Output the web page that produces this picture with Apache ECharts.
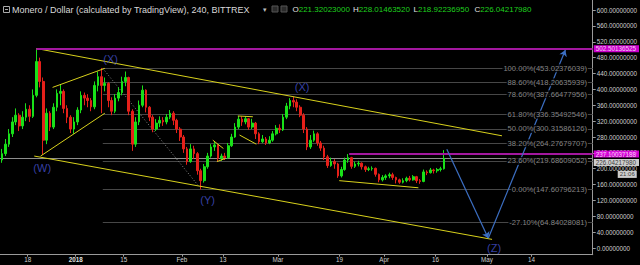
<!DOCTYPE html>
<html><head><meta charset="utf-8">
<script src="https://cdn.jsdelivr.net/npm/echarts@6/dist/echarts.min.js"></script>
<style>html,body{margin:0;padding:0;background:#000;}#c{width:640px;height:265px;}</style>
</head><body><div id="c"></div>
<script>
// ---- data (x = days since 2017-12-18, y = USD) ----
const firstDay = -8;           // first candle: 2017-12-10
const firstOpen = 222;
const closes = [238,262,288,318,335,308,330,350,
 332,385,470,420,272,340,305,355,390,395,
 352,330,300,318,348,385,378,372,356,410,
 432,410,415,372,345,378,392,420,430,345,
 262,318,360,398,355,330,300,315,322,318,
 330,340,322,300,280,250,218,250,238,195,
 170,205,232,255,260,226,232,228,258,280,
 305,325,318,326,305,315,288,268,275,265,
 272,288,302,298,330,358,372,368,355,335,
 300,255,272,288,265,252,230,208,218,212,
 182,198,222,228,206,212,214,205,198,200,
 201,186,172,178,182,185,178,172,166,170,
 176,172,180,170,168,192,190,197,195,198,
 200,226];
const highs = [250,275,300,330,352,340,345,365,
 360,400,503,480,430,352,345,365,400,412,
 400,360,335,330,355,395,392,388,378,420,
 445,454,430,418,380,388,405,432,445,432,
 350,330,372,410,400,358,335,325,332,330,
 338,348,345,326,305,285,255,262,258,242,
 200,212,240,262,270,262,238,240,265,288,
 315,333,332,332,328,326,318,292,285,280,
 282,295,310,312,338,366,378,382,375,360,
 340,305,285,296,292,270,258,235,228,224,
 215,205,228,237,230,218,220,216,208,205,
 206,203,188,184,186,190,190,180,175,176,
 180,182,184,182,174,198,196,202,200,202,
 205,247];
const lows = [215,232,255,280,310,295,300,320,
 318,328,380,405,235,262,295,300,345,360,
 340,315,290,288,310,340,360,355,345,350,
 395,340,395,355,335,340,370,385,408,335,
 245,255,310,355,342,320,292,295,305,308,
 312,325,310,290,270,240,210,215,225,185,
 148,165,200,228,245,218,220,222,225,255,
 278,300,308,312,298,300,275,262,265,260,
 262,268,284,290,295,325,350,355,345,330,
 290,247,250,268,258,245,222,202,205,200,
 177,178,195,215,200,202,206,198,192,194,
 195,180,166,168,172,176,172,163,162,163,
 166,168,170,164,162,166,184,188,188,190,
 193,198];
const lastPrice = 226.04217980;
const ohlcText = ['221.32023000','228.01463520','218.92236950','226.04217980'];

const tickDays = [0,14,28,45,57,73,91,104,119,134,147];
const tickLabels = ['18','2018','15','Feb','13','Mar','19','Apr','16','May','14'];
const yTicks = [0,40,80,120,160,200,240,280,320,360,400,440,480,520,560,600];

const fibPct = ['100.00%','88.60%','78.60%','61.80%','50.00%','38.20%','23.60%','0.00%','-27.10%'];
const fibPrice = [453.02376039,418.20635939,387.66477956,336.35492546,300.31586126,264.27679707,219.68609052,147.60796213,64.84028081];
const fibStartDay = 21.9;

const channelLines = [[[2.5,503],[138.4,283]], [[1.9,232],[135.5,22]]];
const patternLines = [
  [[7.25,405],[22.5,453]], [[3.76,232],[22.5,340]],
  [[54.0,272],[57.1,251]], [[55.2,218],[57.7,226]],
  [[61.3,333],[65.7,331]], [[61.8,285],[66.7,262]],
  [[90.9,170],[114,152]]
];
const dottedLine = [[21.9,453],[50.1,154]];
const magentaLevels = [{start:2.5, price:502.50136525}, {start:93.8, price:237.10037188}];
const projection = [[122.3,249],[134.4,25],[156.9,499]];
const waveLabels = [['(W)',4.22,202.6],['(X)',24.2,476.6],['(Y)',52.5,121.2],['(X)',80.05,406.8],['(Z)',136.1,0.3]];

// ---- chart ----
const dayMin = -8.095, dayMax = 164.88, priceMin = -16.6, priceMax = 625.25;
const FONT = 'Liberation Sans';

const candles = closes.map((c,i)=>[firstDay+i+0.5, i===0?firstOpen:closes[i-1], c, lows[i], highs[i]]);
const seg = (a,b)=>({coords:[a,b]});

const chart = echarts.init(document.getElementById('c'), null, {renderer:'svg', width:640, height:265});
chart.setOption({
  backgroundColor:'#000',
  animation:false,
  grid:{left:0, right:46, top:0, bottom:10.3},
  xAxis:{type:'value', min:dayMin, max:dayMax, splitLine:{show:false},
    axisLine:{onZero:false, lineStyle:{color:'#9a9a9a'}},
    axisTick:{customValues:tickDays, length:2, lineStyle:{color:'#9a9a9a'}},
    axisLabel:{customValues:tickDays, margin:2, color:'#cfcfcf', fontSize:6.3, fontFamily:FONT,
      formatter:v=>{const l=tickLabels[tickDays.indexOf(v)]; return l==='2018'?'{b|2018}':l;},
      rich:{b:{fontWeight:'bold', color:'#e0e0e0', fontSize:6.3, fontFamily:FONT}}}},
  yAxis:{type:'value', position:'right', min:priceMin, max:priceMax, splitLine:{show:false},
    axisLine:{show:true, onZero:false, lineStyle:{color:'#9a9a9a'}},
    axisTick:{show:true, customValues:yTicks, length:3, lineStyle:{color:'#9a9a9a'}},
    axisLabel:{customValues:yTicks, margin:4, color:'#cfcfcf', fontSize:6.3, fontFamily:FONT,
      formatter:v=>v.toFixed(8)}},
  graphic:[
    {type:'rect', shape:{x:3.5,y:6.5,width:6,height:6}, style:{fill:'none', stroke:'#aaa', lineWidth:1}},
    {type:'line', shape:{x1:5,y1:9.5,x2:8,y2:9.5}, style:{stroke:'#aaa', lineWidth:1}},
    {type:'text', x:12, y:9.5, style:{text:'Monero / Dollar (calculated by TradingView), 240, BITTREX', fill:'#d8d8d8', font:'9px '+FONT, textVerticalAlign:'middle'}},
    {type:'text', x:263, y:9.5, style:{text:'▾', fill:'#bbb', font:'7px '+FONT, textVerticalAlign:'middle'}},
    {type:'rect', shape:{x:272,y:6,width:6,height:6}, style:{fill:'#2a2a2a', stroke:'#555'}},
    {type:'rect', shape:{x:281,y:6,width:6,height:6}, style:{fill:'#2a2a2a', stroke:'#555'}},
    ...['O','H','L','C'].map((k,i)=>({type:'text', x:[292.5,353,413.5,474.5][i], y:9.5,
      style:{text:'{l|'+k+'}{v|'+ohlcText[i]+'}', font:'8px '+FONT, textVerticalAlign:'middle',
        rich:{l:{fill:'#e0e0e0', font:'8px '+FONT}, v:{fill:'#1fcf1f', font:'8px '+FONT}}}}))
  ],
  series:[
    {type:'lines', coordinateSystem:'cartesian2d', silent:true, z:1,
      lineStyle:{color:'#474747', width:1, opacity:1},
      data:fibPrice.map(p=>seg([fibStartDay,p],[dayMax,p]))},
    {type:'lines', coordinateSystem:'cartesian2d', silent:true, z:1,
      lineStyle:{color:'#8e8e8e', width:1, opacity:1},
      data:[seg([dayMin,lastPrice],[dayMax,lastPrice])]},
    {type:'lines', coordinateSystem:'cartesian2d', silent:true, z:1,
      lineStyle:{color:'#8a8a8a', width:1, type:[1,2], opacity:1},
      data:[seg(dottedLine[0],dottedLine[1])]},
    {type:'candlestick', z:3, barWidth:2.2, data:candles,
      itemStyle:{color:'#19e019', color0:'#e5201a', borderColor:'#19e019', borderColor0:'#e5201a', borderWidth:1}},
    {type:'lines', coordinateSystem:'cartesian2d', silent:true, z:4,
      lineStyle:{color:'#d8d11c', width:1, opacity:1},
      data:channelLines.concat(patternLines).map(l=>seg(l[0],l[1]))},
    {type:'lines', coordinateSystem:'cartesian2d', silent:true, z:4,
      lineStyle:{color:'#a3179f', width:2, opacity:1},
      data:magentaLevels.map(m=>seg([m.start,m.price],[dayMax,m.price]))},
    {type:'lines', coordinateSystem:'cartesian2d', silent:true, z:5,
      symbol:['none','arrow'], symbolSize:6,
      lineStyle:{color:'#3c6fc3', width:1.2, opacity:1},
      data:[seg(projection[0],projection[1]), seg(projection[1],projection[2])]},
    {type:'scatter', z:6, symbolSize:0, silent:true, clip:false,
      label:{show:true, position:'inside', formatter:p=>p.data.name, color:'#4452d0', fontSize:11, fontFamily:FONT},
      data:waveLabels.map(w=>({name:w[0], value:[w[1],w[2]]}))},
    {type:'scatter', z:6, symbolSize:0, silent:true, clip:false,
      label:{show:true, position:'left', distance:0, formatter:p=>p.data.name, color:'#a8a8a8', fontSize:7.6, fontFamily:FONT,
        backgroundColor:'#000', padding:[0,1]},
      data:fibPrice.map((p,i)=>({name:fibPct[i]+'('+p.toFixed(8)+')', value:[163.5,p]}))},
    {type:'scatter', z:10, symbolSize:0, silent:true, clip:false,
      label:{show:true, position:'right', distance:1, formatter:p=>p.data.name, fontSize:6.3, fontFamily:FONT,
        color:'#fff', backgroundColor:'#ff00ff', padding:[1,3,0,2]},
      data:[
        ...magentaLevels.map(m=>({name:m.price.toFixed(8), value:[dayMax,m.price]})),
        {name:lastPrice.toFixed(8), value:[dayMax,lastPrice], label:{color:'#111', backgroundColor:'#fff', offset:[0,4.2]}},
        {name:'21:06', value:[dayMax,lastPrice], label:{color:'#111', backgroundColor:'#fff', distance:25, offset:[0,16], fontSize:6, padding:[1,2,0,2]}}
      ]}
  ]
});
</script></body></html>
